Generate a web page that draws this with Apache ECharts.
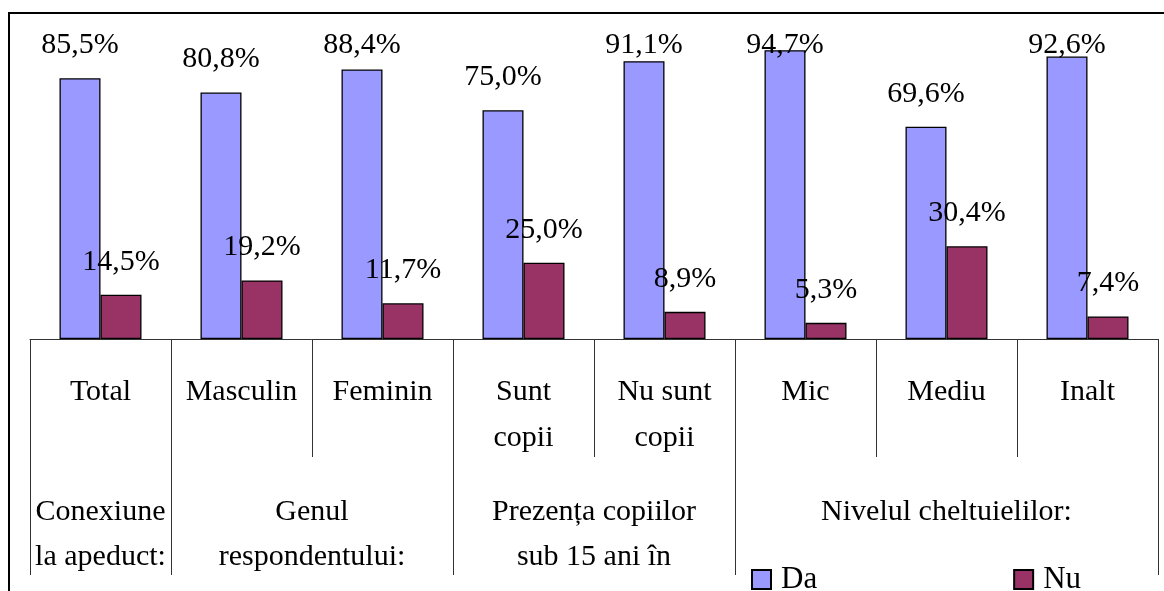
<!DOCTYPE html>
<html>
<head>
<meta charset="utf-8">
<script src="https://cdn.jsdelivr.net/npm/echarts@6/dist/echarts.min.js"></script>
<style>
  html, body { margin: 0; padding: 0; background: #fff; }
  #chart { width: 1164px; height: 591px; }
</style>
</head>
<body>
<div id="chart"></div>
<script>
// categorii si grupe
var categories = ['Total', 'Masculin', 'Feminin', 'Sunt\ncopii', 'Nu sunt\ncopii', 'Mic', 'Mediu', 'Inalt'];
var groupNames = ['Conexiune\nla apeduct:', 'Genul\nrespondentului:', 'Prezența copiilor\nsub 15 ani în', 'Nivelul cheltuielilor:'];
var groupBounds = [0, 1, 3, 5, 8];
var groupCenters = [0.5, 2, 4, 6.5];

// valori (%)
var daValues = [85.5, 80.8, 88.4, 75.0, 91.1, 94.7, 69.6, 92.6];
var nuValues = [14.5, 19.2, 11.7, 25.0, 8.9, 5.3, 30.4, 7.4];

var FONT = 'Liberation Serif';

function fmt(p) {
    return p.value.toFixed(1).replace('.', ',') + '%';
}

var chart = echarts.init(document.getElementById('chart'));

var labelStyle = {
    show: true,
    position: 'top',
    distance: 18,
    formatter: fmt,
    color: '#000',
    fontFamily: FONT,
    fontSize: 30
};

var option = {
    backgroundColor: '#fff',
    animation: false,
    grid: { left: 30, right: 6, top: 34, bottom: 252 },
    graphic: [{
        type: 'rect',
        shape: { x: 9, y: 13, width: 1200, height: 700 },
        style: { fill: 'none', stroke: '#000', lineWidth: 2 },
        silent: true
    }],
    legend: {
        left: 751,
        top: 564,
        padding: 0,
        itemWidth: 19,
        itemHeight: 19,
        itemGap: 196,
        icon: 'rect',
        data: ['Da', 'Nu'],
        textStyle: { fontFamily: FONT, fontSize: 31, color: '#000', padding: [0, 0, 0, 5] }
    },
    xAxis: [{
        type: 'category',
        data: categories,
        axisLine: { lineStyle: { color: '#333', width: 1 } },
        axisTick: { show: true, interval: 0, length: 118, lineStyle: { color: '#333', width: 1 } },
        axisLabel: {
            margin: 30,
            interval: 0,
            color: '#000',
            fontFamily: FONT,
            fontSize: 30,
            lineHeight: 46
        }
    }, {
        type: 'value',
        min: 0,
        max: 8,
        position: 'bottom',
        axisLine: { show: false },
        splitLine: { show: false },
        axisTick: {
            show: true,
            length: 236,
            customValues: groupBounds,
            lineStyle: { color: '#333', width: 1 }
        },
        axisLabel: {
            margin: 151,
            customValues: groupCenters,
            color: '#000',
            fontFamily: FONT,
            fontSize: 30,
            lineHeight: 45,
            formatter: function (v) {
                var i = groupCenters.indexOf(v);
                return i >= 0 ? groupNames[i] : '';
            }
        }
    }],
    yAxis: {
        type: 'value',
        min: 0,
        max: 100,
        show: false,
        splitLine: { show: false }
    },
    series: [{
        name: 'Da',
        type: 'bar',
        barWidth: 41,
        barGap: 0,
        data: daValues,
        itemStyle: { color: '#9999ff', borderColor: '#000', borderWidth: 1.3 },
        label: labelStyle
    }, {
        name: 'Nu',
        type: 'bar',
        barWidth: 41,
        data: nuValues,
        itemStyle: { color: '#993366', borderColor: '#000', borderWidth: 1.3 },
        label: labelStyle
    }]
};

chart.setOption(option);

// etichetele prea sus sunt coborate sub marginea de sus
var minLabelY = 45;
var daItems = daValues.map(function (v, i) {
    var y = chart.convertToPixel({ xAxisIndex: 0, yAxisIndex: 0 }, [i, v])[1];
    var center = y - 18 - 15;
    var dy = center < minLabelY ? minLabelY - center : 0;
    return { value: v, label: { offset: [0, dy] } };
});
chart.setOption({ series: [{ data: daItems }, {}] });
</script>
</body>
</html>
